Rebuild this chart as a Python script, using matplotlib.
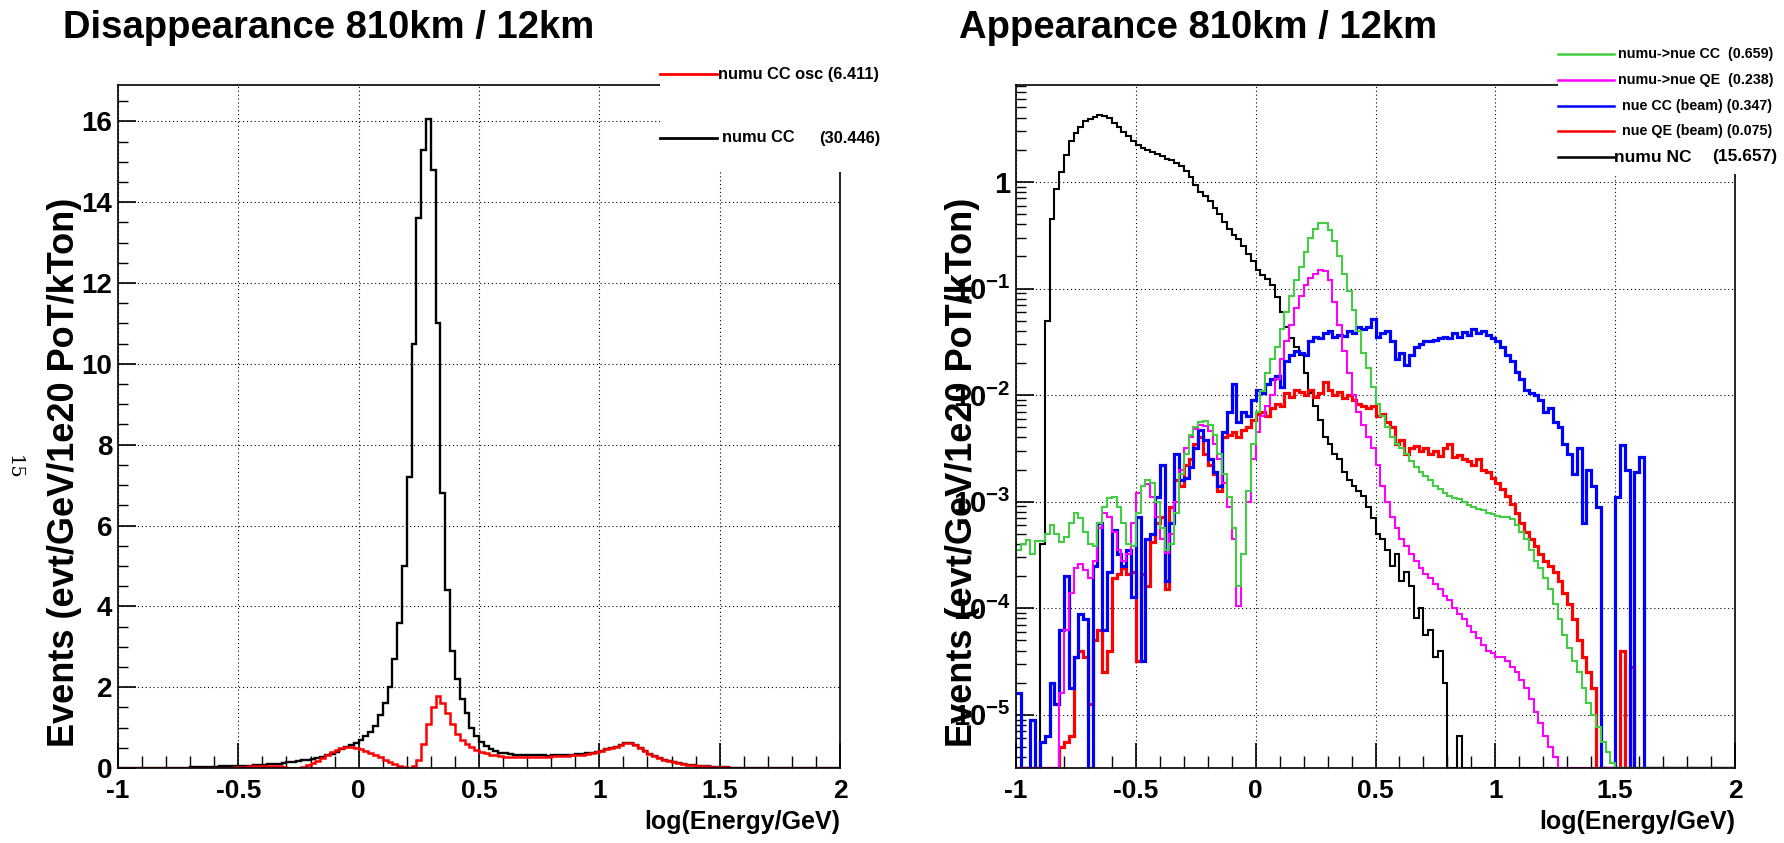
import numpy as np
import matplotlib
matplotlib.use("Agg")
import matplotlib.pyplot as plt
from matplotlib.patches import Rectangle
from matplotlib.lines import Line2D
from matplotlib.ticker import MultipleLocator, LogLocator, FuncFormatter, NullFormatter

plt.rcParams['font.family'] = ['Liberation Sans', 'DejaVu Sans']
plt.rcParams['font.weight'] = 'bold'
plt.rcParams['axes.unicode_minus'] = False
plt.rcParams['mathtext.fontset'] = 'custom'
plt.rcParams['mathtext.rm'] = 'Liberation Sans:bold'
plt.rcParams['mathtext.it'] = 'Liberation Sans:bold'
plt.rcParams['mathtext.bf'] = 'Liberation Sans:bold'

# ---- data: 150 bins of log(E/GeV) from -1 to 2 (width 0.02) ----
x_lo, x_hi, n_bins = -1.0, 2.0, 150

# disappearance (linear scale)
numu_cc = [
    0, 0, 0, 0, 0, 0, 0, 0, 0, 0.01,
    0.01, 0.01, 0.01, 0.01, 0.01, 0.02, 0.02, 0.02, 0.03, 0.03,
    0.03, 0.04, 0.04, 0.05, 0.05, 0.05, 0.06, 0.06, 0.07, 0.07,
    0.08, 0.09, 0.10, 0.11, 0.13, 0.14, 0.16, 0.17, 0.19, 0.21,
    0.23, 0.25, 0.28, 0.31, 0.35, 0.40, 0.46, 0.53, 0.58, 0.63,
    0.70, 0.78, 0.90, 1.05, 1.30, 1.60, 2.00, 2.70, 3.60, 5.00,
    7.20, 10.50, 13.60, 15.30, 16.05, 14.80, 11.00, 6.80, 4.40, 2.90,
    2.20, 1.70, 1.35, 1.00, 0.80, 0.65, 0.55, 0.47, 0.42, 0.38,
    0.36, 0.34, 0.33, 0.32, 0.32, 0.31, 0.31, 0.31, 0.31, 0.30,
    0.31, 0.31, 0.32, 0.32, 0.33, 0.34, 0.35, 0.36, 0.38, 0.40,
    0.43, 0.46, 0.50, 0.53, 0.57, 0.61, 0.63, 0.58, 0.50, 0.42,
    0.35, 0.29, 0.24, 0.20, 0.17, 0.14, 0.12, 0.10, 0.08, 0.07,
    0.06, 0.05, 0.04, 0.03, 0.03, 0.02, 0.02, 0.01, 0.01, 0.01,
    0.01, 0, 0, 0, 0, 0, 0, 0, 0, 0,
    0, 0, 0, 0, 0, 0, 0, 0, 0, 0,
]
numu_cc_osc = [
    0, 0, 0, 0, 0, 0, 0, 0, 0, 0,
    0, 0, 0, 0, 0, 0, 0, 0, 0, 0,
    0, 0, 0.01, 0.01, 0.02, 0.02, 0.03, 0.04, 0.05, 0.06,
    0.06, 0.06, 0.05, 0.04, 0.02, 0.01, 0.0, 0.01, 0.03, 0.07,
    0.12, 0.18, 0.25, 0.32, 0.39, 0.45, 0.49, 0.51, 0.51, 0.49,
    0.46, 0.42, 0.38, 0.33, 0.27, 0.21, 0.15, 0.10, 0.05, 0.02,
    0.01, 0.05, 0.20, 0.60, 1.10, 1.50, 1.77, 1.60, 1.35, 1.10,
    0.85, 0.70, 0.60, 0.52, 0.45, 0.40, 0.36, 0.33, 0.31, 0.29,
    0.28, 0.27, 0.27, 0.27, 0.27, 0.27, 0.28, 0.28, 0.28, 0.28,
    0.29, 0.29, 0.30, 0.30, 0.31, 0.32, 0.33, 0.35, 0.37, 0.39,
    0.42, 0.46, 0.50, 0.53, 0.57, 0.61, 0.63, 0.58, 0.50, 0.42,
    0.35, 0.29, 0.24, 0.20, 0.17, 0.14, 0.12, 0.10, 0.08, 0.07,
    0.06, 0.05, 0.04, 0.03, 0.03, 0.02, 0.02, 0.01, 0.01, 0.01,
    0.01, 0, 0, 0, 0, 0, 0, 0, 0, 0,
    0, 0, 0, 0, 0, 0, 0, 0, 0, 0,
]

# appearance (log scale)
numu_nc = [
    0, 0, 0, 0, 0, 4e-4, 0.05, 0.45, 0.85, 1.25,
    1.78, 2.4, 2.9, 3.3, 3.7, 3.9, 4.1, 4.27, 4.2, 4.0,
    3.6, 3.3, 2.95, 2.7, 2.4, 2.2, 2.1, 2.0, 1.9, 1.82,
    1.74, 1.66, 1.62, 1.51, 1.41, 1.26, 1.12, 0.93, 0.81, 0.74,
    0.66, 0.575, 0.5, 0.42, 0.36, 0.32, 0.29, 0.25, 0.21, 0.18,
    0.15, 0.135, 0.123, 0.107, 0.083, 0.06, 0.044, 0.034, 0.028, 0.024,
    0.016, 0.0105, 0.0079, 0.0058, 0.004, 0.0035, 0.0028, 0.0025, 0.0019, 0.0016,
    1.4e-3, 1.26e-3, 1.12e-3, 8.9e-4, 7e-4, 5e-4, 4.5e-4, 3.5e-4, 2.5e-4, 3.2e-4,
    1.8e-4, 2.2e-4, 1.6e-4, 8e-5, 1e-4, 5.6e-5, 6.3e-5, 3.5e-5, 4e-5, 2e-5,
    0, 0, 6.3e-6, 0, 0, 0, 0, 0, 0, 0,
    0, 0, 0, 0, 0, 0, 0, 0, 0, 0,
    0, 0, 0, 0, 0, 0, 0, 0, 0, 0,
    0, 0, 0, 0, 0, 0, 0, 0, 0, 0,
    0, 0, 0, 0, 0, 0, 0, 0, 0, 0,
    0, 0, 0, 0, 0, 0, 0, 0, 0, 0,
]
nue_cc_osc = [
    3.5e-4, 4e-4, 4.4e-4, 3.2e-4, 4.3e-4, 4.3e-4, 5e-4, 6e-4, 5e-4, 4.2e-4,
    4.7e-4, 6.3e-4, 7.9e-4, 7e-4, 5.2e-4, 4e-4, 3.8e-4, 6.3e-4, 8.9e-4, 1.07e-3,
    1.1e-3, 8.9e-4, 6.3e-4, 4e-4, 3.8e-4, 7.9e-4, 1.4e-3, 1.6e-3, 1.5e-3, 1e-3,
    5.6e-4, 3.5e-4, 4e-4, 7.9e-4, 1.8e-3, 2.8e-3, 4.2e-3, 5e-3, 5.6e-3, 5.75e-3,
    5.2e-3, 4.2e-3, 2.8e-3, 1.8e-3, 1.1e-3, 5.6e-4, 1.6e-4, 3.2e-4, 1.26e-3, 3.5e-3,
    7e-3, 0.011, 0.016, 0.022, 0.028, 0.042, 0.06, 0.085, 0.12, 0.16,
    0.22, 0.3, 0.36, 0.41, 0.41, 0.355, 0.28, 0.2, 0.138, 0.095,
    0.063, 0.04, 0.025, 0.018, 0.012, 8.3e-3, 6.3e-3, 5e-3, 4e-3, 3.5e-3,
    3.2e-3, 2.8e-3, 2.4e-3, 2.1e-3, 1.9e-3, 1.74e-3, 1.6e-3, 1.4e-3, 1.3e-3, 1.2e-3,
    1.12e-3, 1.07e-3, 1.05e-3, 1e-3, 9.3e-4, 8.9e-4, 8.5e-4, 8.3e-4, 7.9e-4, 7.6e-4,
    7.4e-4, 7.2e-4, 7.1e-4, 6.8e-4, 6e-4, 5.2e-4, 4.5e-4, 3.5e-4, 2.8e-4, 2.4e-4,
    1.9e-4, 1.5e-4, 1.1e-4, 7.9e-5, 5.6e-5, 4.2e-5, 3.2e-5, 2.5e-5, 1.8e-5, 1.3e-5,
    1e-5, 7.6e-6, 5.6e-6, 4.5e-6, 3.5e-6, 0, 0, 0, 0, 0,
    0, 0, 0, 0, 0, 0, 0, 0, 0, 0,
    0, 0, 0, 0, 0, 0, 0, 0, 0, 0,
]
nue_qe_osc = [
    0, 0, 0, 0, 0, 0, 0, 0, 0, 1.6e-5,
    6.3e-5, 1.4e-4, 2.4e-4, 2.6e-4, 2.3e-4, 1.9e-4, 2.8e-4, 5.6e-4, 7.9e-4, 7.1e-4,
    5.2e-4, 3.5e-4, 2.8e-4, 3.2e-4, 6.3e-4, 1.2e-3, 1.4e-3, 1.45e-3, 1.1e-3, 7.1e-4,
    4.5e-4, 3.3e-4, 5e-4, 1e-3, 2e-3, 3.2e-3, 4e-3, 4.8e-3, 5.2e-3, 5.1e-3,
    4.6e-3, 3.5e-3, 2.5e-3, 1.5e-3, 8.9e-4, 4.5e-4, 1.05e-4, 3.2e-4, 1e-3, 2.5e-3,
    4.5e-3, 6.3e-3, 7.9e-3, 0.01, 0.014, 0.022, 0.032, 0.045, 0.065, 0.085,
    0.107, 0.126, 0.138, 0.148, 0.145, 0.12, 0.075, 0.045, 0.026, 0.016,
    0.01, 7e-3, 5.2e-3, 4e-3, 3.2e-3, 2.2e-3, 1.4e-3, 1e-3, 7.1e-4, 5.6e-4,
    4.5e-4, 3.8e-4, 3.2e-4, 2.8e-4, 2.4e-4, 2.1e-4, 1.9e-4, 1.7e-4, 1.5e-4, 1.3e-4,
    1.2e-4, 1e-4, 8.9e-5, 7.9e-5, 6.8e-5, 6e-5, 5.2e-5, 4.5e-5, 4e-5, 3.8e-5,
    3.5e-5, 3.5e-5, 3.2e-5, 2.8e-5, 2.5e-5, 2.1e-5, 1.8e-5, 1.4e-5, 1.07e-5, 8.3e-6,
    6.3e-6, 5e-6, 4e-6, 0, 0, 0, 0, 0, 0, 0,
    0, 0, 0, 0, 0, 0, 0, 0, 0, 0,
    0, 0, 0, 0, 0, 0, 0, 0, 0, 0,
    0, 0, 0, 0, 0, 0, 0, 0, 0, 0,
]
nue_cc_beam = [
    1.6e-5, 0, 0, 8.9e-6, 0, 5.6e-6, 6.3e-6, 2e-5, 1.26e-5, 6.3e-5,
    2e-4, 1.8e-5, 3.5e-5, 8.9e-5, 7.9e-5, 0, 2.5e-4, 6.3e-4, 6.3e-5, 2.2e-4,
    5.4e-4, 3.2e-4, 2.5e-4, 3.5e-4, 1.26e-4, 7.2e-4, 3.2e-5, 4.5e-4, 5e-4, 1.1e-3,
    2.2e-3, 1.8e-4, 6.3e-4, 2.8e-3, 1.6e-3, 1.65e-3, 2.1e-3, 3.2e-3, 4.7e-3, 3.8e-3,
    2.5e-3, 1.9e-3, 1.4e-3, 4.5e-3, 7e-3, 0.0126, 5.6e-3, 7e-3, 6.3e-3, 8.9e-3,
    0.0112, 0.0105, 0.0126, 0.014, 0.015, 0.012, 0.021, 0.024, 0.026, 0.025,
    0.024, 0.032, 0.035, 0.034, 0.038, 0.04, 0.035, 0.037, 0.036, 0.04,
    0.038, 0.044, 0.042, 0.044, 0.052, 0.035, 0.038, 0.04, 0.032, 0.022,
    0.025, 0.019, 0.024, 0.028, 0.03, 0.032, 0.032, 0.033, 0.034, 0.035,
    0.034, 0.038, 0.035, 0.039, 0.037, 0.042, 0.038, 0.04, 0.037, 0.034,
    0.032, 0.028, 0.024, 0.021, 0.0166, 0.014, 0.0112, 0.0105, 0.01, 8.9e-3,
    7e-3, 7.6e-3, 5.6e-3, 5e-3, 3.5e-3, 2.8e-3, 1.8e-3, 3.2e-3, 6.3e-4, 2e-3,
    1.4e-3, 8.9e-4, 0, 0, 0, 1.1e-3, 3.4e-3, 2e-3, 0, 1.9e-3,
    2.6e-3, 0, 0, 0, 0, 0, 0, 0, 0, 0,
    0, 0, 0, 0, 0, 0, 0, 0, 0, 0,
]
nue_qe_beam = [
    0, 0, 0, 0, 0, 0, 0, 0, 0, 5e-6,
    5.6e-6, 6.3e-6, 3.5e-5, 4e-5, 3.5e-5, 1.26e-5, 5e-5, 6.3e-5, 2.5e-5, 4e-5,
    1.9e-4, 2.1e-4, 2.4e-4, 2.1e-4, 2.2e-4, 3.2e-5, 2.1e-4, 1.6e-4, 4.2e-4, 6.3e-4,
    7.1e-4, 1.5e-4, 8.9e-4, 1.6e-3, 1.4e-3, 2.2e-3, 2.5e-3, 3.5e-3, 4e-3, 2.8e-3,
    2.2e-3, 1.8e-3, 1.26e-3, 4e-3, 4.2e-3, 4.5e-3, 4e-3, 4.7e-3, 5e-3, 5.8e-3,
    6.6e-3, 7e-3, 6.3e-3, 7.6e-3, 8.3e-3, 7.9e-3, 0.0105, 9.5e-3, 0.0112, 0.0107,
    0.01, 0.0112, 9.5e-3, 0.0105, 0.0132, 0.0112, 0.01, 0.0107, 9.3e-3, 0.01,
    8.9e-3, 8.3e-3, 7.9e-3, 7.6e-3, 7.9e-3, 6.3e-3, 6.6e-3, 5.6e-3, 5e-3, 3.5e-3,
    3.8e-3, 2.8e-3, 3.2e-3, 3.3e-3, 3e-3, 3.2e-3, 2.8e-3, 3e-3, 2.7e-3, 3.2e-3,
    3.5e-3, 2.6e-3, 2.75e-3, 2.5e-3, 2.4e-3, 2.2e-3, 2.5e-3, 2e-3, 1.9e-3, 1.66e-3,
    1.5e-3, 1.3e-3, 1.12e-3, 9.5e-4, 7.9e-4, 6.3e-4, 5.2e-4, 4.5e-4, 3.8e-4, 3.2e-4,
    2.8e-4, 2.5e-4, 2.2e-4, 1.8e-4, 1.4e-4, 1.1e-4, 7.9e-5, 5e-5, 3.5e-5, 2.5e-5,
    1.8e-5, 0, 0, 0, 0, 0, 4e-5, 0, 2.8e-5, 0,
    0, 0, 0, 0, 0, 0, 0, 0, 0, 0,
    0, 0, 0, 0, 0, 0, 0, 0, 0, 0,
]

dis_labels = ['numu CC osc (6.411)', 'numu CC', '(30.446)']
app_labels = ['numu->nue CC  (0.659)', 'numu->nue QE  (0.238)',
              'nue CC (beam) (0.347)', 'nue QE (beam) (0.075)', 'numu NC', '(15.657)']

for s in (numu_cc, numu_cc_osc, numu_nc, nue_cc_osc, nue_qe_osc, nue_cc_beam, nue_qe_beam):
    assert len(s) == n_bins, len(s)

edges = np.linspace(x_lo, x_hi, n_bins + 1)

# ---- figure ----
W, H = 1784, 843
fig = plt.figure(figsize=(W / 100, H / 100), dpi=100)


def fx(px):
    return px / W


def fy(py):
    return 1 - py / H


def box(x0, y0, x1, y1):
    return [fx(x0), fy(y1), (x1 - x0) / W, (y1 - y0) / H]


ax1 = fig.add_axes(box(118, 85, 840, 768))
ax2 = fig.add_axes(box(1016, 85, 1735, 768))

GREEN = '#44cc44'

for ax in (ax1, ax2):
    ax.set_xlim(x_lo, x_hi)
    ax.xaxis.set_major_locator(MultipleLocator(0.5))
    ax.xaxis.set_minor_locator(MultipleLocator(0.1))
    ax.xaxis.set_major_formatter(FuncFormatter(lambda v, p: f'{v:g}'))
    ax.tick_params(axis='x', which='major', direction='in', length=18, width=1.2,
                   top=False, labelsize=19, pad=8)
    ax.tick_params(axis='x', which='minor', direction='in', length=9, width=1.0, top=False)
    ax.tick_params(axis='y', which='major', direction='in', length=13, width=1.2,
                   right=False, labelsize=19, pad=4)
    ax.tick_params(axis='y', which='minor', direction='in', length=7, width=1.0, right=False)
    ax.grid(True, which='major', color='black', linestyle=(0, (1, 2.5)), linewidth=0.8)
    ax.set_axisbelow(True)
    for sp in ax.spines.values():
        sp.set_linewidth(1.2)

# left: disappearance
ax1.set_ylim(0, 16.9)
ax1.yaxis.set_major_locator(MultipleLocator(2))
ax1.yaxis.set_minor_locator(MultipleLocator(0.5))
ax1.yaxis.set_major_formatter(FuncFormatter(lambda v, p: f'{v:g}'))
ax1.tick_params(axis='y', labelsize=20)
ax1.stairs(numu_cc, edges, color='black', lw=1.7, baseline=None)
ax1.stairs(numu_cc_osc, edges, color='red', lw=1.8, baseline=None)

# right: appearance
ymin, ymax = 10 ** -5.5, 10 ** 0.91
ax2.set_yscale('log')
ax2.set_ylim(ymin, ymax)
ax2.yaxis.set_major_locator(LogLocator(base=10, numticks=20))
ax2.yaxis.set_minor_locator(LogLocator(base=10, subs=np.arange(2, 10), numticks=20))
ax2.yaxis.set_minor_formatter(NullFormatter())


def log_label(v, p):
    e = int(round(np.log10(v)))
    return '1' if e == 0 else r'$10^{%d}$' % e


ax2.yaxis.set_major_formatter(FuncFormatter(log_label))
ax2.tick_params(axis='y', labelsize=21)


def floor(vals):
    return np.maximum(np.asarray(vals, dtype=float), ymin)


ax2.stairs(floor(numu_nc), edges, color='black', lw=1.5, baseline=None)
ax2.stairs(floor(nue_qe_beam), edges, color='red', lw=2.3, baseline=None)
ax2.stairs(floor(nue_cc_beam), edges, color='blue', lw=2.3, baseline=None)
ax2.stairs(floor(nue_qe_osc), edges, color='magenta', lw=1.5, baseline=None)
ax2.stairs(floor(nue_cc_osc), edges, color=GREEN, lw=1.5, baseline=None)

# ---- titles and axis titles ----
fig.text(fx(63), fy(28), 'Disappearance 810km / 12km', fontsize=27.5, ha='left', va='center')
fig.text(fx(959), fy(28), 'Appearance 810km / 12km', fontsize=27.5, ha='left', va='center')
for xp in (65, 963):
    fig.text(fx(xp), fy(472), 'Events (evt/GeV/1e20 PoT/kTon)', rotation=90,
             ha='center', va='center', fontsize=26)
for xp in (840, 1735):
    fig.text(fx(xp), fy(822), 'log(Energy/GeV)', ha='right', va='center', fontsize=18)

fig.text(fx(14), fy(467), '15', rotation=-90, ha='center', va='center',
         fontsize=14, weight='normal', family='DejaVu Serif')

# ---- legends (white boxes over the top-right corners) ----
fig.add_artist(Rectangle((fx(660), fy(172)), fx(900) - fx(660), fy(40) - fy(172),
                         transform=fig.transFigure, facecolor='white', edgecolor='none', zorder=1.5))
fig.add_artist(Rectangle((fx(1558), fy(174)), fx(1784) - fx(1558), fy(38) - fy(174),
                         transform=fig.transFigure, facecolor='white', edgecolor='none', zorder=1.5))


def leg_line(x0, x1, y, color, lw):
    fig.add_artist(Line2D([fx(x0), fx(x1)], [fy(y), fy(y)], transform=fig.transFigure,
                          color=color, lw=lw, zorder=2))


leg_line(660, 717, 74, 'red', 2.0)
fig.text(fx(718), fy(74), dis_labels[0], fontsize=11.8, ha='left', va='center')
leg_line(660, 717, 138, 'black', 2.0)
fig.text(fx(722), fy(138), dis_labels[1], fontsize=11.8, ha='left', va='center')
fig.text(fx(880), fy(138), dis_labels[2], fontsize=11.8, ha='right', va='center')

app_colors = [GREEN, 'magenta', 'blue', 'red', 'black']
app_y = [54, 80, 106, 131, 157]
app_tx = [1618, 1618, 1622, 1622]
for i in range(4):
    leg_line(1558, 1614, app_y[i], app_colors[i], 1.8)
    fig.text(fx(app_tx[i]), fy(app_y[i]), app_labels[i], fontsize=10.3, ha='left', va='center')
leg_line(1558, 1614, app_y[4], 'black', 1.8)
fig.text(fx(1614), fy(app_y[4]), app_labels[4], fontsize=12.5, ha='left', va='center')
fig.text(fx(1777), fy(app_y[4]), app_labels[5], fontsize=12.5, ha='right', va='center')

fig.savefig('out.png', dpi=100)
